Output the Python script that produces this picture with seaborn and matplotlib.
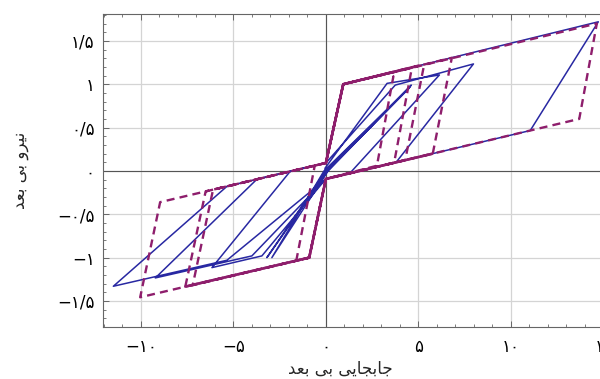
import matplotlib
matplotlib.use("Agg")
import matplotlib.pyplot as plt
import seaborn as sns
import pandas as pd
from matplotlib.ticker import FixedLocator, MultipleLocator

# ---------------- data (dimensionless displacement, dimensionless force) ----------------
blue_x = [0.0, 4.62, 0.15, -2.92, -0.10, 4.56, 0.10, -3.19, 0.0, 4.50, 0.05,
          -0.05, 3.31, 6.14, 1.30, 0.0, -3.46, -6.16, -1.93, 0.0,
          3.75, 7.98, 3.80, 0.0, -4.00, -9.22, -3.73, 0.0,
          0.94, 14.73, 11.05, 0.0, -5.35, -11.49, -5.35, 0.0]
blue_y = [0.0, 0.99, 0.01, -1.00, 0.00, 0.97, 0.00, -1.00, 0.0, 0.955, -0.01,
          0.03, 1.01, 1.107, -0.026, -0.092, -0.98, -1.115, -0.005, 0.092,
          0.99, 1.234, 0.10, -0.092, -0.98, -1.234, -0.096, 0.092,
          1.00, 1.72, 0.466, -0.092, -1.03, -1.33, -0.178, 0.092]

dash_x = [0.0, 0.94, 3.40, 3.65, 2.76, 0.0, -0.90, -1.60, -0.60, 0.0,
          0.94, 4.65, 3.69, 0.0, -0.90, -7.20, -6.10, 0.0,
          0.94, 5.10, 5.28, 4.29, 0.0, -0.90, -7.60, -6.50, 0.0,
          0.94, 6.81, 5.78, 0.0, -0.90, -10.04, -8.96, 0.0,
          0.94, 14.65, 13.70, 0.0]
dash_y = [0.092, 1.00, 1.13, 1.09, 0.06, -0.092, -1.00, -1.035, 0.062, 0.092,
          1.00, 1.19, 0.094, -0.092, -1.00, -1.318, -0.216, 0.092,
          1.00, 1.22, 1.19, 0.125, -0.092, -1.00, -1.334, -0.236, 0.092,
          1.00, 1.305, 0.20, -0.092, -1.00, -1.457, -0.360, 0.092,
          1.00, 1.70, 0.60, -0.092]

solid1_x = [5.75, 0.0, -0.90, -7.60]
solid1_y = [0.198, -0.092, -1.00, -1.334]
solid2_x = [0.0, 0.94, 4.57]
solid2_y = [0.092, 1.00, 1.19]

# tick values and Persian labels
xticks = [-10, -5, 0, 5, 10, 15]
xtick_labels = ["\u2212\u06F1\u06F0", "\u2212\u06F5", "\u06F0", "\u06F5", "\u06F1\u06F0", "\u06F1\u06F5"]
yticks = [-1.5, -1.0, -0.5, 0.0, 0.5, 1.0, 1.5]
ytick_labels = ["\u2212\u06F1/\u06F5", "\u2212\u06F1", "\u2212\u06F0/\u06F5", "\u06F0",
                "\u06F0/\u06F5", "\u06F1", "\u06F1/\u06F5"]

# pre-shaped (visual order) Persian axis titles
xlabel_text = "\uFEAA\uFECC\uFE91 \uFEF0\uFE91 \uFEF0\uFEF3\uFE8E\uFEA0\uFE91\uFE8E\uFE9F"  # جابجایی بی بعد
ylabel_text = "\uFEAA\uFECC\uFE91 \uFEF0\uFE91 \uFEED\uFEAE\uFEF4\uFEE7"                  # نیرو بی بعد

# ---------------- style ----------------
sns.set_theme(style="white")
plt.rcParams['font.family'] = ['DejaVu Sans']

BLUE = "#2828A2"
PURPLE = "#8E1E6C"

fig = plt.figure(figsize=(6.0, 3.79), dpi=100)
ax_left, ax_right, ax_top, ax_bot = 103, 607, 14, 327
ax = fig.add_axes([ax_left / 600, (379 - ax_bot) / 379,
                   (ax_right - ax_left) / 600, (ax_bot - ax_top) / 379])

df_blue = pd.DataFrame({"x": blue_x, "y": blue_y})
df_dash = pd.DataFrame({"x": dash_x, "y": dash_y})
df_s1 = pd.DataFrame({"x": solid1_x, "y": solid1_y})
df_s2 = pd.DataFrame({"x": solid2_x, "y": solid2_y})

sns.lineplot(data=df_blue, x="x", y="y", sort=False, estimator=None,
             color=BLUE, lw=1.1, ax=ax, zorder=3)
sns.lineplot(data=df_dash, x="x", y="y", sort=False, estimator=None,
             color=PURPLE, lw=1.7, ls=(0, (3.4, 2.2)), ax=ax, zorder=4)
sns.lineplot(data=df_s1, x="x", y="y", sort=False, estimator=None,
             color=PURPLE, lw=1.9, ax=ax, zorder=5)
sns.lineplot(data=df_s2, x="x", y="y", sort=False, estimator=None,
             color=PURPLE, lw=1.9, ax=ax, zorder=5)

ax.set_xlim(-12.05, 15.2)
ax.set_ylim(-1.80, 1.81)

ax.xaxis.set_major_locator(FixedLocator(xticks))
ax.set_xticklabels(xtick_labels)
ax.yaxis.set_major_locator(FixedLocator(yticks))
ax.set_yticklabels(ytick_labels)
ax.xaxis.set_minor_locator(MultipleLocator(1))
ax.yaxis.set_minor_locator(MultipleLocator(0.1))

ax.grid(True, which="major", color="#d4d4d4", lw=0.9, zorder=0)
ax.axhline(0, color="#555555", lw=0.8, zorder=1.5)
ax.axvline(0, color="#555555", lw=0.8, zorder=1.5)

for s in ax.spines.values():
    s.set_color("#666666")
    s.set_linewidth(0.8)

ax.tick_params(which="both", direction="in", top=True, bottom=True, left=True, right=True,
               colors="#666666", labelcolor="black")
ax.tick_params(which="major", length=4.5, width=0.7)
ax.tick_params(which="minor", length=2.2, width=0.6)
ax.tick_params(axis="x", which="major", pad=8, labelsize=12)
ax.tick_params(axis="y", which="major", pad=6, labelsize=12)

ax.set_xlabel(xlabel_text, fontsize=12)
ax.set_ylabel(ylabel_text, fontsize=12)
ax.xaxis.set_label_coords((340 - ax_left) / (ax_right - ax_left), -(369 - ax_bot) / (ax_bot - ax_top))
ax.yaxis.set_label_coords(-(ax_left - 20) / (ax_right - ax_left), (ax_bot - 170) / (ax_bot - ax_top))
ax.xaxis.label.set_va("center")
ax.yaxis.label.set_va("center")

fig.savefig("out.png", dpi=100)
